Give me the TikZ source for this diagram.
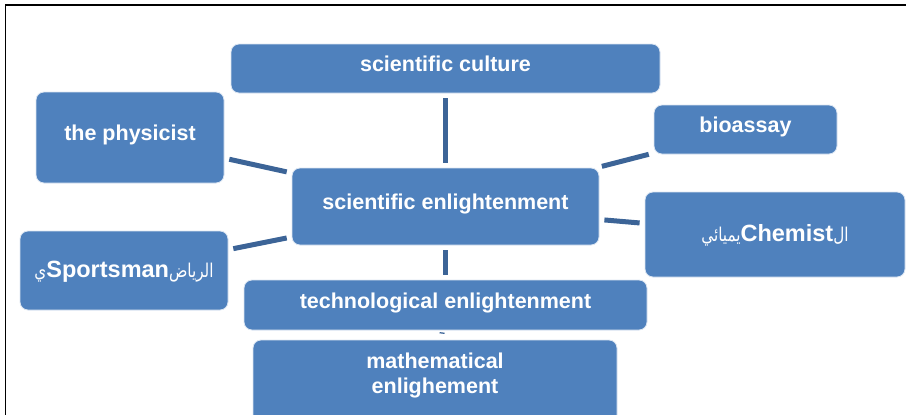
\documentclass[tikz,border=0pt]{standalone}
\usepackage{fontspec}
\setmainfont{Liberation Sans}
\newfontfamily\arabicfont[Script=Arabic, FakeStretch=0.8]{DejaVu Sans}
\TeXXeTstate=1
\usetikzlibrary{calc}
\definecolor{boxblue}{HTML}{4F81BD}
\definecolor{lineblue}{HTML}{3C6497}
\begin{document}
\begin{tikzpicture}[x=1pt,y=-1pt,
  box/.style={draw=white!80!boxblue, line width=0.8pt, fill=boxblue, rounded corners=8pt,
    text=white, font=\fontsize{21.5}{25.5}\selectfont\bfseries, inner sep=0pt, align=center,
    text height=16pt, text depth=10pt},
  arbox/.style={box, text height=16pt, text depth=2pt},
  lbl/.style={text=white, font=\fontsize{21.5}{25.5}\selectfont\bfseries, align=center, inner sep=0pt},
  conn/.style={draw=lineblue, line width=5pt, shorten <=5pt, shorten >=5pt}]
\useasboundingbox (0,0) rectangle (906,415);
\clip (0,0) rectangle (906,415);
\draw[line width=1.6pt] (5.6,420) -- (5.6,4.8) -- (910,4.8);

\node[box, minimum width=429pt, minimum height=49pt] (cult) at (445.5,68.5) {scientific culture};
\node[box, minimum width=188pt, minimum height=91pt] (phys) at (130,137.5) {the physicist};
\node[box, minimum width=183pt, minimum height=49pt] (bio) at (745.5,129.5) {bioassay};
\node[box, minimum width=307pt, minimum height=77pt] (cent) at (445.5,206.5) {scientific enlightenment};
\node[arbox, minimum width=260pt, minimum height=85pt] (chem) at (775,234.5)
  {\fontsize{19}{22}\arabicfont\mdseries\beginR ال\beginL{\fontsize{23.5}{26}\rmfamily\bfseries Chemist}\endL يميائي\endR};
\node[arbox, minimum width=208pt, minimum height=79pt] (sport) at (124,270.5)
  {\fontsize{19}{22}\arabicfont\mdseries\beginR الرياض\beginL{\fontsize{23.5}{26}\rmfamily\bfseries Sportsman}\endL ي\endR};
\node[box, minimum width=403pt, minimum height=50pt] (tech) at (445.5,305) {technological enlightenment};
\node[box, minimum width=364pt, minimum height=100pt,
  label={[lbl, yshift=14.5pt]center:{mathematical\\enlighement}}] (math) at (435,390) {};

\draw[conn] (cult) -- (cent);
\draw[conn] (phys) -- (cent);
\draw[conn] (bio) -- (cent);
\draw[conn] (chem) -- (cent);
\draw[conn] (sport) -- (cent);
\draw[conn] (cent) -- (tech);
\draw[draw=lineblue, line width=5pt, shorten <=2pt, shorten >=6pt] (tech) -- (math);
\end{tikzpicture}
\end{document}
